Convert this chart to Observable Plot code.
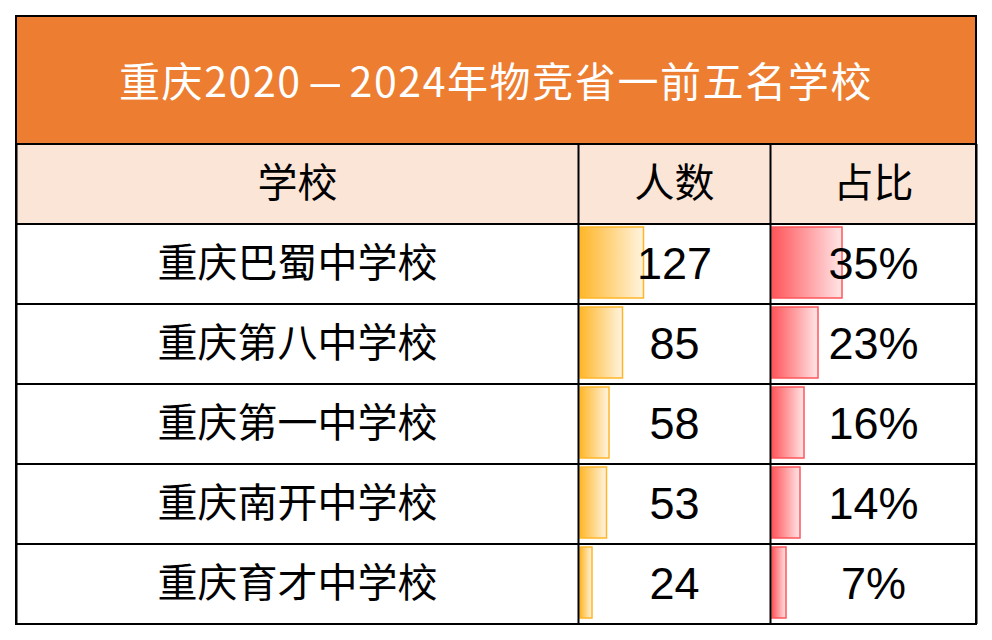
<!DOCTYPE html>
<html><head><meta charset="utf-8">
<script src="https://cdn.jsdelivr.net/npm/d3@7"></script>
<script src="https://cdn.jsdelivr.net/npm/@observablehq/plot@0.6"></script>
<style>
body{margin:0;background:#fff;}
#wrap{position:relative;width:992px;height:640px;overflow:hidden;background:#fff}
#title{position:absolute;left:15px;top:15px;width:962px;height:130px;box-sizing:border-box;border:2px solid #000;background:#ED7D31;color:#fff;font-family:"Noto Sans CJK SC",sans-serif;font-size:41px;letter-spacing:1.6px;display:flex;align-items:center;justify-content:center;line-height:1;padding-bottom:2px;}
#title .dash{display:inline-block;width:48px;text-align:center;letter-spacing:0}
#title .dash span{display:inline-block;transform:scaleX(2.8)}
#chart{position:absolute;left:0;top:144px}
</style></head><body>
<div id="wrap"><div id="title"></div><div id="chart"></div></div>
<script>
const title = "重庆2020-2024年物竞省一前五名学校";
const headers = ["学校", "人数", "占比"];
const schools = ["重庆巴蜀中学校", "重庆第八中学校", "重庆第一中学校", "重庆南开中学校", "重庆育才中学校"];
const counts = [127, 85, 58, 53, 24];
const percents = [35, 23, 16, 14, 7];

// title: widen the hyphen to match the reference rendering
const titleEl = document.getElementById("title");
title.split("-").forEach((part, i) => {
  if (i > 0) {
    const d = document.createElement("span");
    d.className = "dash";
    const inner = document.createElement("span");
    inner.textContent = "-";
    d.appendChild(inner);
    titleEl.appendChild(d);
  }
  titleEl.appendChild(document.createTextNode(part));
});

const rows = schools.map((s, i) => ({school: s, count: counts[i], pct: percents[i]}));
const rowKeys = ["__header", ...schools];

// layout (x in table pixel units)
const colEdges = [0, 562, 754, 960];
const colCenter = i => (colEdges[i] + colEdges[i + 1]) / 2;
const countStart = colEdges[1] + 2, countK = 0.5;
const pctStart = colEdges[2] + 2, pctK = 2;

const cjk = '"Noto Sans CJK SC", sans-serif';
const latin = '"Liberation Sans", Arial, "Noto Sans CJK SC", sans-serif';

const defs = () => d3.create("svg:g").html(`
  <defs>
    <linearGradient id="gOrange" x1="0" x2="1" y1="0" y2="0">
      <stop offset="0" stop-color="#FFB628"/>
      <stop offset="1" stop-color="#FFF4E0"/>
    </linearGradient>
    <linearGradient id="gRed" x1="0" x2="1" y1="0" y2="0">
      <stop offset="0" stop-color="#FF555A"/>
      <stop offset="1" stop-color="#FFE6E7"/>
    </linearGradient>
  </defs>`).node();

const chart = Plot.plot({
  width: 992,
  height: 496,
  marginLeft: 16,
  marginRight: 16,
  marginTop: 0,
  marginBottom: 16,
  x: {domain: [0, 960], axis: null},
  y: {type: "band", domain: rowKeys, padding: 0, axis: null},
  style: {fontFamily: cjk, background: "transparent"},
  marks: [
    defs,
    Plot.barX(["__header"], {x1: colEdges[0], x2: colEdges[3], y: d => d, fill: "#FBE5D6"}),
    Plot.barX(rows, {x1: countStart, x2: d => countStart + d.count * countK, y: "school",
      insetTop: 3, insetBottom: 6, fill: "url(#gOrange)", stroke: "#FFB628", strokeWidth: 1.5}),
    Plot.barX(rows, {x1: pctStart, x2: d => pctStart + d.pct * pctK, y: "school",
      insetTop: 3, insetBottom: 6, fill: "url(#gRed)", stroke: "#FF555A", strokeWidth: 1.5}),
    Plot.barX(rowKeys, {x1: colEdges[0], x2: colEdges[3], y: d => d, fill: "none", stroke: "#000", strokeWidth: 2}),
    Plot.ruleX(colEdges, {stroke: "#000", strokeWidth: 2}),
    Plot.text(headers, {x: (d, i) => colCenter(i), y: () => "__header", text: d => d,
      fontSize: 40, fill: "#000", fontFamily: cjk}),
    Plot.text(rows, {x: colCenter(0), y: "school", text: "school", fontSize: 40, fill: "#000", fontFamily: cjk}),
    Plot.text(rows, {x: colCenter(1), y: "school", text: d => String(d.count), fontSize: 45, fill: "#000", fontFamily: latin}),
    Plot.text(rows, {x: colCenter(2), y: "school", text: d => d.pct + "%", fontSize: 45, fill: "#000", fontFamily: latin})
  ]
});
document.getElementById("chart").appendChild(chart);
</script>
</body></html>
